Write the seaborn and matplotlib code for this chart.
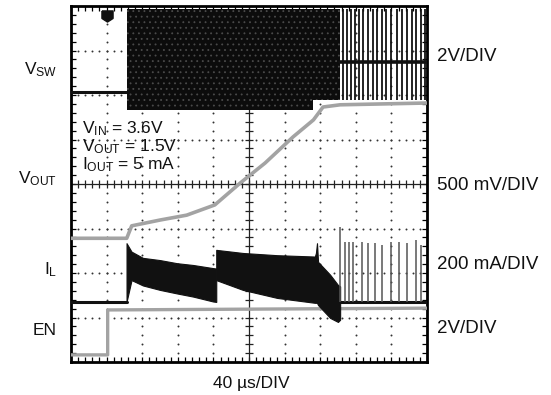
import matplotlib
matplotlib.use("Agg")
import matplotlib.pyplot as plt
import numpy as np
import pandas as pd
import seaborn as sns
from matplotlib.ticker import MultipleLocator, NullFormatter

sns.set_style("white")
plt.rcParams["font.family"] = ["Liberation Sans", "DejaVu Sans"]
plt.rcParams["mathtext.fontset"] = "custom"
plt.rcParams["mathtext.rm"] = "Liberation Sans"
plt.rcParams["mathtext.it"] = "Liberation Sans:italic"
plt.rcParams["mathtext.bf"] = "Liberation Sans:bold"
plt.rcParams["hatch.linewidth"] = 0.6

# Screen units: time in divisions (40 us/DIV, 10 div), level in divisions (8 div)

# Switch node V_SW (2 V/DIV)
vsw_idle_t = [0.0, 1.57]
vsw_idle_v = [6.07, 6.07]
vsw_burst_t = [1.57, 6.80, 6.80, 7.56]
vsw_burst_hi = [7.93, 7.93, 7.93, 7.93]
vsw_burst_lo = [5.66, 5.66, 5.89, 5.89]
vsw_skip_t = [7.56, 10.0]
vsw_skip_v = [6.74, 6.74]
vsw_pulse_t = [7.63, 7.74, 7.86, 7.98, 8.10, 8.21, 8.35, 8.47, 8.60, 8.73,
               8.85, 8.98, 9.15, 9.29, 9.43, 9.57, 9.69, 9.82, 9.94]
vsw_pulse_hi = 7.93
vsw_pulse_lo = 5.89

# Output voltage V_OUT (500 mV/DIV)
vout_t = [0.0, 1.565, 1.705, 2.50, 3.25, 4.04, 4.75, 5.45, 6.24, 6.81, 7.08, 7.56, 10.0]
vout_v = [2.78, 2.78, 3.06, 3.19, 3.30, 3.53, 4.02, 4.47, 5.06, 5.44, 5.73, 5.78, 5.82]

# Inductor current I_L (200 mA/DIV)
il_base = 1.35
il_idle_t = [0.0, 1.57]
il_soft1_t = [1.56, 1.70, 2.02, 2.50, 2.98, 3.43, 3.99, 4.08]
il_soft1_hi = [2.67, 2.48, 2.34, 2.29, 2.22, 2.18, 2.11, 2.10]
il_soft1_lo = [1.35, 1.84, 1.72, 1.62, 1.54, 1.47, 1.36, 1.35]
il_soft2_t = [4.08, 4.83, 5.79, 6.85, 6.88, 6.91, 6.94, 7.28, 7.50, 7.56]
il_soft2_hi = [2.52, 2.45, 2.40, 2.37, 2.45, 2.67, 2.25, 1.96, 1.73, 1.70]
il_soft2_lo = [1.84, 1.62, 1.44, 1.33, 1.33, 1.33, 1.28, 0.99, 0.90, 0.95]
il_skip_t = [7.56, 10.0]
il_pulse_t = [7.56, 7.70, 7.82, 7.93, 8.17, 8.35, 8.54, 8.73, 8.98, 9.22, 9.44, 9.69, 9.82]
il_pulse_hi = [3.03, 2.70, 2.70, 2.70, 2.70, 2.67, 2.67, 2.63, 2.70, 2.70, 2.67, 2.74, 2.63]

# Enable EN (2 V/DIV)
en_t = [0.0, 1.03, 1.03, 10.0]
en_v = [0.16, 0.16, 1.17, 1.21]
trigger_t = 1.0

left_labels = [r"V$_{\mathrm{SW}}$", r"V$_{\mathrm{OUT}}$", r"I$_{\mathrm{L}}$", "EN"]
left_label_y = [6.47, 4.02, 1.96, 0.61]
right_labels = ["2V/DIV", "500 mV/DIV", "200 mA/DIV", "2V/DIV"]
right_label_y = [6.76, 3.87, 2.09, 0.65]
cond_labels = [r"V$_{\mathrm{IN}}$ = 3.6V", r"V$_{\mathrm{OUT}}$ = 1.5V", r"I$_{\mathrm{OUT}}$ = 5 mA"]
cond_y = [5.15, 4.74, 4.34]
time_label = "40 \u00b5s/DIV"

DARK = "#111111"
GRAY = "#a3a3a3"
FS = 12.5
FS_SCALE = 13.5

fig = plt.figure(figsize=(5.51, 3.95), dpi=100)
ax = fig.add_axes([71 / 551, 33 / 395, 356 / 551, 356 / 395])
ax.set_xlim(0, 10)
ax.set_ylim(0, 8)

# graticule: dotted division lines and a ticked centre cross
minor = np.arange(0, 8.001, 0.2)
minor_x = np.arange(0, 10.001, 0.2)
for gx in range(1, 10):
    if gx != 5:
        ax.scatter(np.full_like(minor, gx), minor, s=2.0, color="#333333", lw=0, zorder=1)
for gy in range(1, 8):
    if gy != 4:
        ax.scatter(minor_x, np.full_like(minor_x, gy), s=2.0, color="#333333", lw=0, zorder=1)
ax.axhline(4, color="#222222", lw=0.9, zorder=1)
ax.axvline(5, color="#222222", lw=0.9, zorder=1)
ax.plot(minor_x, np.full_like(minor_x, 4), ls="none", marker="|", ms=6, mew=0.9,
        color="#222222", zorder=1)
ax.plot(np.full_like(minor, 5), minor, ls="none", marker="_", ms=6, mew=0.9,
        color="#222222", zorder=1)

# EN
sns.lineplot(x=en_t, y=en_v, ax=ax, color=GRAY, lw=2.4, sort=False, estimator=None,
             legend=False, zorder=3)

# V_OUT
sns.lineplot(x=vout_t, y=vout_v, ax=ax, color=GRAY, lw=2.6, sort=False, estimator=None,
             legend=False, zorder=3)

# V_SW
sns.lineplot(x=vsw_idle_t, y=vsw_idle_v, ax=ax, color=DARK, lw=2.2, estimator=None,
             legend=False, zorder=4)
ax.fill_between(vsw_burst_t, vsw_burst_lo, vsw_burst_hi, facecolor="#0c0c0c",
                edgecolor="#4a4a4a", hatch="...", lw=0, zorder=4)
sns.lineplot(x=vsw_skip_t, y=vsw_skip_v, ax=ax, color=DARK, lw=2.6, estimator=None,
             legend=False, zorder=4)
ax.vlines(vsw_pulse_t, vsw_pulse_lo, vsw_pulse_hi, color=DARK, lw=1.3, zorder=4)

# I_L
sns.lineplot(x=il_idle_t, y=[il_base, il_base], ax=ax, color=DARK, lw=2.2,
             estimator=None, legend=False, zorder=5)
ax.fill_between(il_soft1_t, il_soft1_lo, il_soft1_hi, facecolor=DARK, lw=0.8,
                edgecolor=DARK, zorder=5)
ax.fill_between(il_soft2_t, il_soft2_lo, il_soft2_hi, facecolor=DARK, lw=0.8,
                edgecolor=DARK, zorder=5)
sns.lineplot(x=il_skip_t, y=[il_base, il_base], ax=ax, color=DARK, lw=2.2,
             estimator=None, legend=False, zorder=5)
ax.vlines(il_pulse_t, il_base, il_pulse_hi, color="#555555", lw=1.1, zorder=5)

# trigger marker
ax.plot(trigger_t, 7.78, ls="none", color=DARK, ms=8, zorder=6,
        marker=[(-1, 1), (1, 1), (1, -0.35), (0, -1), (-1, -0.35), (-1, 1)])

# frame and border ticks
for s in ax.spines.values():
    s.set_linewidth(2.0)
    s.set_color("black")
ax.xaxis.set_major_locator(MultipleLocator(1))
ax.xaxis.set_minor_locator(MultipleLocator(0.2))
ax.yaxis.set_major_locator(MultipleLocator(1))
ax.yaxis.set_minor_locator(MultipleLocator(0.2))
ax.xaxis.set_major_formatter(NullFormatter())
ax.yaxis.set_major_formatter(NullFormatter())
ax.tick_params(which="both", direction="in", length=3.5, width=0.9, color="black",
               top=True, right=True, bottom=True, left=True)
ax.set_xlabel("")
ax.set_ylabel("")

for lab, y in zip(left_labels, left_label_y):
    ax.text(-0.39, y, lab, ha="right", va="baseline", fontsize=FS, color="#111111",
            clip_on=False)
for lab, y in zip(right_labels, right_label_y):
    ax.text(10.28, y, lab, ha="left", va="baseline", fontsize=FS_SCALE, color="#111111",
            clip_on=False)
for lab, y in zip(cond_labels, cond_y):
    ax.text(0.31, y, lab, ha="left", va="baseline", fontsize=FS, color="#111111",
            zorder=7)
ax.text(5.06, -0.58, time_label, ha="center", va="baseline", fontsize=FS,
        color="#111111", clip_on=False)

fig.savefig("out.png", dpi=100, facecolor="white")
